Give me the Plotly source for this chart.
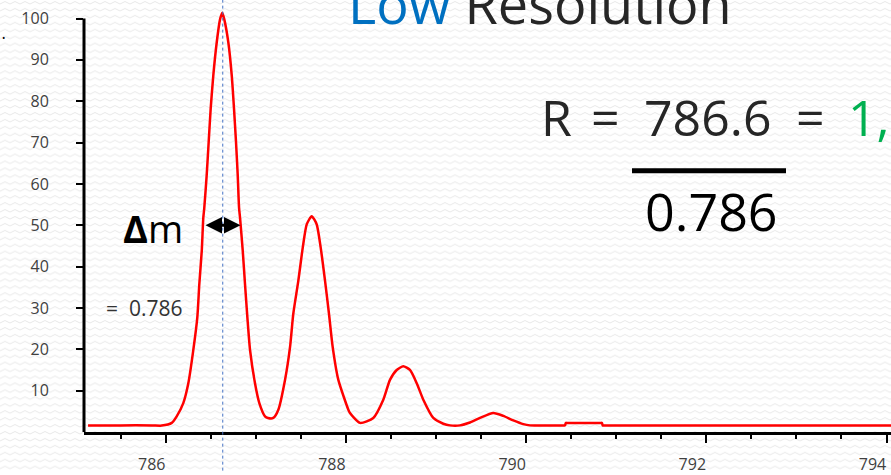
import base64
import plotly.graph_objects as go

# ---- data ----
mz = [785.138, 785.500, 785.850, 785.956, 786.067, 786.122, 786.195, 786.251, 786.306,
      786.351, 786.373, 786.400, 786.417, 786.428, 786.455, 786.477, 786.499, 786.528,
      786.566, 786.603, 786.628, 786.650, 786.695, 786.733, 786.758, 786.780, 786.799,
      786.814, 786.825, 786.855, 786.880, 786.906, 786.936, 786.991, 787.039, 787.102,
      787.135, 787.194, 787.250, 787.324, 787.380, 787.416, 787.472, 787.521, 787.565,
      787.620, 787.676, 787.720, 787.768, 787.812, 787.853, 787.916, 788.027, 788.045,
      788.157, 788.304, 788.415, 788.489, 788.564, 788.637, 788.711, 788.786, 788.859,
      788.970, 789.081, 789.155, 789.266, 789.377, 789.488, 789.636, 789.747, 789.858,
      789.969, 790.043, 790.200, 790.420, 790.432, 790.440, 790.452, 790.830, 790.842,
      790.850, 790.862, 791.300, 791.900, 792.500, 793.100, 793.600, 794.050]
intensity = [1.6, 1.6, 1.6, 1.55, 2.2, 3.8, 7.0, 11.8, 19.8,
             27.8, 35.8, 43.8, 51.8, 54.2, 62.2, 70.2, 78.2, 86.2,
             94.2, 99.8, 101.4, 99.8, 94.2, 86.2, 78.2, 70.2, 62.2,
             54.2, 51.8, 43.8, 35.8, 27.8, 19.8, 11.8, 7.0, 3.8,
             3.4, 3.4, 5.4, 12.6, 20.6, 28.6, 36.6, 44.6, 50.2,
             52.2, 50.2, 44.6, 36.6, 28.6, 20.6, 12.6, 5.4, 4.6,
             2.2, 3.4, 7.8, 12.6, 15.0, 15.9, 15.0, 11.8, 7.8,
             3.4, 2.0, 1.6, 1.6, 2.3, 3.4, 4.6, 3.9, 2.8,
             1.9, 1.6, 1.6, 1.6, 1.6, 2.2, 2.2, 2.2, 2.2,
             1.6, 1.6, 1.6, 1.6, 1.6, 1.6, 1.6, 1.6]

x_tick_vals = [786, 788, 790, 792, 794]
x_tick_text = ["786", "788", "790", "792", "794"]
y_tick_vals = [10, 20, 30, 40, 50, 60, 70, 80, 90, 100]
y_tick_text = ["10", "20", "30", "40", "50", "60", "70", "80", "90", "100"]

peak_mz = 786.633
fwhm_left = 786.425
fwhm_right = 786.83
half_height = 50
y_axis_top = 100

# ---- geometry helpers (pixels -> paper) ----
W, H = 891, 475
ML, MR, MT, MB = 84, 0, 2, 39
PW, PH = W - ML - MR, H - MT - MB
Y_MAX = 104


def px(x):
    return (x - ML) / PW


def py(y):
    return (H - MB - y) / PH


FONT = "Open Sans"

# subtle zig-zag background texture
svg = (
    '<svg xmlns="http://www.w3.org/2000/svg" width="891" height="475">'
    '<defs><pattern id="z" width="10" height="7" patternUnits="userSpaceOnUse">'
    '<path d="M0 4 L5 1.5 L10 4" fill="none" stroke="#e8e8e8" stroke-width="1"/>'
    '</pattern></defs><rect width="891" height="475" fill="#ffffff"/>'
    '<rect width="891" height="475" fill="url(#z)"/></svg>'
)
bg_src = "data:image/svg+xml;base64," + base64.b64encode(svg.encode()).decode()

fig = go.Figure()
fig.add_trace(go.Scatter(x=mz, y=intensity, mode="lines",
                         line=dict(color="#ff0000", width=2.5, shape="spline", smoothing=0.6),
                         hoverinfo="skip", showlegend=False))

shapes = [
    # y axis line from 0 to 100, drawn as a thin filled bar
    dict(type="rect", xref="paper", yref="y", x0=px(82.5), x1=px(85.5),
         y0=0, y1=y_axis_top, fillcolor="#000000", line=dict(width=0), layer="above"),
    # dotted marker at peak centre
    dict(type="line", xref="x", yref="paper", x0=peak_mz, x1=peak_mz,
         y0=py(H), y1=py(0), line=dict(color="#4472c4", width=1, dash="dot")),
    # fraction bar
    dict(type="line", xref="paper", yref="paper", x0=px(632), x1=px(786),
         y0=py(172.3), y1=py(172.3), line=dict(color="black", width=5)),
]

annotations = [
    dict(xref="paper", yref="paper", x=px(346), y=py(3), xanchor="left", yanchor="middle",
         text="<span style='color:#0070c0'>Low</span> Resolution", showarrow=False,
         font=dict(family=FONT, size=54, color="#262626")),
    dict(xref="paper", yref="paper", x=px(556), y=py(118), xanchor="center", yanchor="middle",
         text="R", showarrow=False, font=dict(family=FONT, size=50, color="#262626")),
    dict(xref="paper", yref="paper", x=px(605.5), y=py(118), xanchor="center", yanchor="middle",
         text="=", showarrow=False, font=dict(family=FONT, size=50, color="#262626")),
    dict(xref="paper", yref="paper", x=px(707.5), y=py(118), xanchor="center", yanchor="middle",
         text="786.6", showarrow=False, font=dict(family=FONT, size=50, color="#262626")),
    dict(xref="paper", yref="paper", x=px(810), y=py(118), xanchor="center", yanchor="middle",
         text="=", showarrow=False, font=dict(family=FONT, size=50, color="#262626")),
    dict(xref="paper", yref="paper", x=px(846), y=py(118), xanchor="left", yanchor="middle",
         text="1,", showarrow=False, font=dict(family=FONT, size=50, color="#00b050")),
    dict(xref="paper", yref="paper", x=px(711.7), y=py(212.5), xanchor="center", yanchor="middle",
         text="0.786", showarrow=False, font=dict(family=FONT, size=52, color="black")),
    dict(xref="paper", yref="paper", x=px(121), y=py(230), xanchor="left", yanchor="middle",
         text="<b>Δ</b>m", showarrow=False, font=dict(family=FONT, size=38, color="black")),
    dict(xref="paper", yref="paper", x=px(104), y=py(311), xanchor="left", yanchor="middle",
         text="=  0.786", showarrow=False, font=dict(family=FONT, size=21, color="#333333")),
    dict(xref="paper", yref="paper", x=px(3), y=py(38), xanchor="center", yanchor="middle",
         text="•", showarrow=False, font=dict(family=FONT, size=9, color="black")),
    # FWHM double arrow
    dict(xref="x", yref="y", axref="x", ayref="y", x=fwhm_right, y=half_height,
         ax=fwhm_left, ay=half_height, text="", showarrow=True, arrowside="end+start",
         arrowhead=2, arrowsize=1.1, arrowwidth=3, arrowcolor="black",
         standoff=0, startstandoff=0),
]

fig.update_layout(
    width=W, height=H,
    margin=dict(l=ML, r=MR, t=MT, b=MB, pad=0),
    paper_bgcolor="white", plot_bgcolor="rgba(0,0,0,0)",
    showlegend=False,
    shapes=shapes, annotations=annotations,
    images=[dict(source=bg_src, xref="paper", yref="paper", x=px(0), y=py(0),
                 sizex=W / PW, sizey=H / PH, xanchor="left", yanchor="top",
                 sizing="stretch", layer="below")],
    xaxis=dict(range=[785.093, 794.05], showgrid=False, zeroline=False,
               showline=True, linecolor="black", linewidth=3,
               tickmode="array", tickvals=x_tick_vals, ticktext=x_tick_text,
               ticks="outside", ticklen=8, tickwidth=2, tickcolor="black",
               ticklabelshift=-14, ticklabelstandoff=8,
               tickfont=dict(family=FONT, size=16, color="#404040"),
               minor=dict(dtick=0.5, tick0=786, ticks="outside", ticklen=4,
                          tickwidth=2, tickcolor="black", showgrid=False)),
    yaxis=dict(range=[0, Y_MAX], showgrid=False, zeroline=False, showline=False,
               tickmode="array", tickvals=y_tick_vals, ticktext=y_tick_text,
               ticks="outside", ticklen=7, tickwidth=2, tickcolor="black",
               ticklabelstandoff=24,
               tickfont=dict(family=FONT, size=16, color="#404040")),
)

fig.write_html("out.html")
